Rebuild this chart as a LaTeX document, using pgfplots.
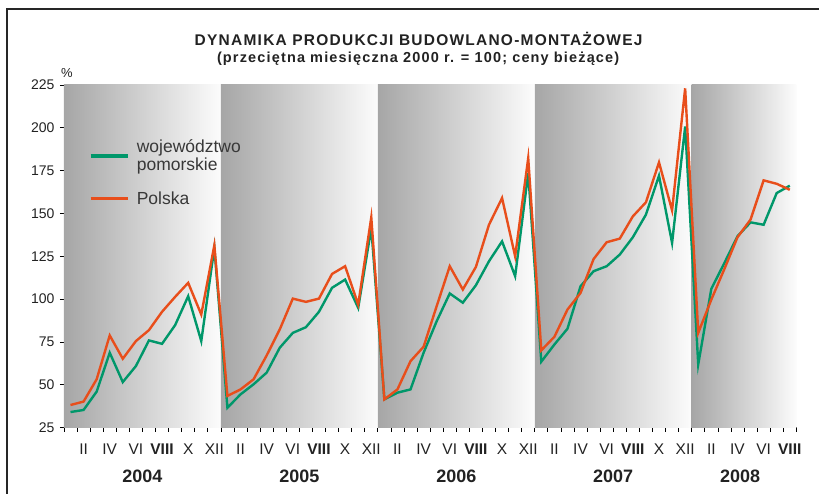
\documentclass[border=0pt]{standalone}
\usepackage{fontspec}
\setmainfont{Liberation Sans}
\usepackage{pgfplots}
\pgfplotsset{compat=1.18}

\definecolor{pgreen}{HTML}{00976A}
\definecolor{porange}{HTML}{E84E1B}
\definecolor{bandl}{HTML}{A6A6A6}
\definecolor{bandr}{HTML}{FCFCFC}
\definecolor{gridc}{HTML}{3C444E}
\definecolor{txt}{HTML}{222222}

% wojewodztwo pomorskie, I.2004 - VIII.2008 (x = month index)
\pgfplotstableread{
x y
0 34.1
1 35.3
2 46.0
3 68.7
4 51.6
5 60.9
6 75.9
7 73.9
8 84.8
9 101.7
10 75.5
11 129.9
12 36.6
13 44.4
14 50.3
15 57.1
16 71.6
17 80.3
18 83.6
19 92.6
20 106.6
21 111.4
22 94.9
23 141.5
24 41.5
25 45.4
26 47.3
27 68.7
28 87.1
29 103.3
30 97.9
31 108.1
32 122.1
33 133.7
34 113.4
35 173.5
36 63.5
37 73.5
38 82.7
39 107.5
40 116.3
41 119.2
42 126.0
43 136.1
44 149.3
45 172.0
46 132.8
47 200.7
48 61.9
49 106.0
50 121.1
51 136.7
52 144.8
53 143.4
54 161.9
55 166.2
}\pomorskie

% Polska
\pgfplotstableread{
x y
0 38.2
1 40.2
2 53.2
3 78.8
4 65.2
5 75.5
6 81.9
7 92.6
8 101.3
9 109.5
10 91.0
11 131.4
12 43.5
13 47.3
14 53.2
15 67.1
16 82.3
17 100.3
18 98.4
19 100.3
20 114.7
21 119.2
22 96.8
23 147.7
24 41.5
25 47.3
26 63.8
27 72.2
28 95.9
29 119.2
30 105.6
31 118.8
32 143.4
33 159.0
34 125.0
35 182.3
36 70.1
37 78.0
38 93.9
39 103.6
40 123.4
41 133.2
42 135.3
43 148.3
44 156.5
45 179.8
46 151.8
47 223.0
48 80.3
49 99.7
50 117.6
51 136.1
52 146.4
53 169.3
54 167.3
55 163.8
}\polska

\pgfplotsset{set layers}

\begin{document}
\begin{tikzpicture}
\path (0,0) rectangle (820bp,494bp);
\draw[line width=1.4bp, black!85] (7bp,0) -- (7bp,485bp) -- (820bp,485bp);

\node[anchor=base, text=txt, font=\fontsize{15.5bp}{18bp}\selectfont\bfseries\addfontfeature{LetterSpace=8}]
  at (419bp,448bp) {DYNAMIKA PRODUKCJI BUDOWLANO-MONTAŻOWEJ};
\node[anchor=base, text=txt, font=\fontsize{14.5bp}{18bp}\selectfont\bfseries\addfontfeature{LetterSpace=8}]
  at (418.5bp,431.5bp) {(przeciętna miesięczna 2000 r. = 100; ceny bieżące)};

\begin{axis}[
  at={(64bp,66bp)}, anchor=south west,
  scale only axis, width=733bp, height=343bp,
  xmin=-0.5, xmax=55.5, ymin=25, ymax=225,
  clip=false,
  axis line style={black!85, line width=0.8bp},
  ytick={25,50,...,225},
  ytick pos=left, xtick pos=bottom,
  tick align=outside,
  major tick length=4bp,
  tick style={black, line width=0.7bp},
  ymajorgrids,
  major grid style={gridc, line width=0.8bp},
  yticklabel style={font=\fontsize{14bp}{16bp}\selectfont, text=txt, xshift=-2bp},
  /pgf/number format/assume math mode=true,
  xtick={-0.5,0.5,...,55.5},
  xticklabels={},
  extra x ticks={1,3,5,7,9,11,13,15,17,19,21,23,25,27,29,31,33,35,37,39,41,43,45,47,49,51,53,55},
  extra x tick labels={II,IV,VI,\textbf{VIII},X,XII,II,IV,VI,\textbf{VIII},X,XII,II,IV,VI,\textbf{VIII},X,XII,II,IV,VI,\textbf{VIII},X,XII,II,IV,VI,\textbf{VIII}},
  extra x tick style={major tick length=0pt, grid=none,
    xticklabel style={font=\fontsize{15.5bp}{17bp}\selectfont, text=txt, anchor=base, yshift=-27bp}},
  legend image code/.code={\draw (0bp,0bp) -- (37bp,0bp);},
  legend cell align=left,
  legend style={at={(rel axis cs:0.029,0.86)}, anchor=north west, draw=none, fill=none,
    font=\fontsize{17.5bp}{16bp}\selectfont, text=txt!90, row sep=10bp,
    nodes={align=left, inner sep=5bp}, column sep=2bp},
]
\fill[on layer=axis background, left color=bandl, right color=bandr] (axis cs:-0.5,25) rectangle (axis cs:11.5,225);
\fill[on layer=axis background, left color=bandl, right color=bandr] (axis cs:11.5,25) rectangle (axis cs:23.5,225);
\fill[on layer=axis background, left color=bandl, right color=bandr] (axis cs:23.5,25) rectangle (axis cs:35.5,225);
\fill[on layer=axis background, left color=bandl, right color=bandr] (axis cs:35.5,25) rectangle (axis cs:47.5,225);
\fill[on layer=axis background, left color=bandl, right color=bandr] (axis cs:47.5,25) rectangle (axis cs:55.5,225);

\addlegendimage{pgreen, line width=4.5bp}
\addlegendentry{województwo\\pomorskie}
\addlegendimage{porange, line width=3.2bp}
\addlegendentry{Polska}

\addplot[pgreen, line width=2.4bp, forget plot] table[x=x, y=y] {\pomorskie};
\addplot[porange, line width=2.4bp, forget plot] table[x=x, y=y] {\polska};

\node[anchor=base, text=txt, font=\fontsize{18bp}{20bp}\selectfont\bfseries]
  at (axis cs:5.5,25) [yshift=-54.5bp] {2004};
\node[anchor=base, text=txt, font=\fontsize{18bp}{20bp}\selectfont\bfseries]
  at (axis cs:17.5,25) [yshift=-54.5bp] {2005};
\node[anchor=base, text=txt, font=\fontsize{18bp}{20bp}\selectfont\bfseries]
  at (axis cs:29.5,25) [yshift=-54.5bp] {2006};
\node[anchor=base, text=txt, font=\fontsize{18bp}{20bp}\selectfont\bfseries]
  at (axis cs:41.5,25) [yshift=-54.5bp] {2007};
\node[anchor=base, text=txt, font=\fontsize{18bp}{20bp}\selectfont\bfseries]
  at (axis cs:51.2,25) [yshift=-54.5bp] {2008};
\node[anchor=base, text=txt, font=\fontsize{13bp}{15bp}\selectfont]
  at (rel axis cs:0,1) [xshift=3bp, yshift=7bp] {\%};
\end{axis}
\end{tikzpicture}
\end{document}
